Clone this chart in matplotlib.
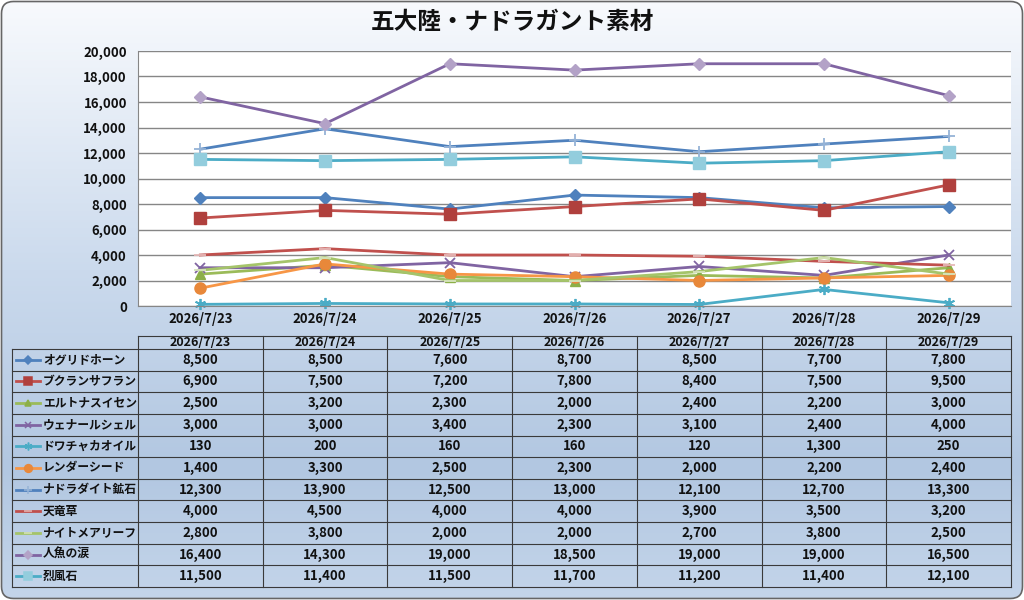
import numpy as np
import matplotlib.pyplot as plt
from matplotlib.patches import FancyBboxPatch
from matplotlib.colors import LinearSegmentedColormap
from matplotlib.ticker import FuncFormatter

plt.rcParams['font.family'] = ['Noto Sans CJK JP', 'DejaVu Sans']

# data
dates = ['2026/7/23', '2026/7/24', '2026/7/25', '2026/7/26', '2026/7/27', '2026/7/28', '2026/7/29']
names = ['オグリドホーン', 'ブクランサフラン', 'エルトナスイセン', 'ウェナールシェル', 'ドワチャカオイル',
         'レンダーシード', 'ナドラダイト鉱石', '天竜草', 'ナイトメアリーフ', '人魚の涙', '烈風石']
ogurido = [8500, 8500, 7600, 8700, 8500, 7700, 7800]
bukuran = [6900, 7500, 7200, 7800, 8400, 7500, 9500]
erutona = [2500, 3200, 2300, 2000, 2400, 2200, 3000]
wenaru = [3000, 3000, 3400, 2300, 3100, 2400, 4000]
dowacha = [130, 200, 160, 160, 120, 1300, 250]
renda = [1400, 3300, 2500, 2300, 2000, 2200, 2400]
nadoradite = [12300, 13900, 12500, 13000, 12100, 12700, 13300]
tenryu = [4000, 4500, 4000, 4000, 3900, 3500, 3200]
nightmare = [2800, 3800, 2000, 2000, 2700, 3800, 2500]
ningyo = [16400, 14300, 19000, 18500, 19000, 19000, 16500]
reppu = [11500, 11400, 11500, 11700, 11200, 11400, 12100]
series = [ogurido, bukuran, erutona, wenaru, dowacha, renda,
          nadoradite, tenryu, nightmare, ningyo, reppu]

# line color, marker, marker face color, marker size
styles = [
    ('#4F81BD', 'D', '#4F81BD', 6),
    ('#C0504D', 's', '#B0403D', 8),
    ('#9BBB59', '^', '#8CAF48', 7),
    ('#8064A2', 'x', '#8064A2', 7),
    ('#4BACC6', (6, 2, 0), '#4BACC6', 8),
    ('#F79646', 'o', '#E8883A', 8),
    ('#4F81BD', '+', '#95B3D7', 8),
    ('#C0504D', '_', '#E6B9B8', 8),
    ('#A5C46A', '_', '#D7E4BD', 8),
    ('#8064A2', 'D', '#B3A2C7', 6),
    ('#4BACC6', 's', '#93CDDD', 9),
]

W, H = 1024, 600
fig = plt.figure(figsize=(10.24, 6), dpi=100)
fig.patch.set_facecolor('white')

# background with gradient and rounded border
bg = fig.add_axes([0, 0, 1, 1])
bg.set_xlim(0, W)
bg.set_ylim(H, 0)
bg.axis('off')
cmap = LinearSegmentedColormap.from_list('bg', [(0, '#f8fafd'), (0.45, '#cbdaed'),
                                               (0.78, '#b2c7e1'), (1, '#c4d5ea')])
grad = np.linspace(0, 1, 256).reshape(-1, 1)
img = bg.imshow(grad, cmap=cmap, extent=[0, W, H, 0], aspect='auto', zorder=0)
frame = FancyBboxPatch((1.5, 1.5), W - 3, H - 3, boxstyle='round,pad=0,rounding_size=12',
                       fc='none', ec='#666666', lw=1.2, zorder=2)
bg.add_patch(frame)
img.set_clip_path(frame)

# plot area
L, R, T, B = 138, 1011, 51, 306
ax = fig.add_axes([L / W, 1 - B / H, (R - L) / W, (B - T) / H])
ax.set_facecolor('white')
x = np.arange(len(dates))
for vals, (lc, mk, mc, ms) in zip(series, styles):
    ax.plot(x, vals, color=lc, lw=2, marker=mk, ms=ms, mfc=mc, mec=mc,
            mew=1.3 if mk in ('x', '+', '_', (6, 2, 0)) else 1, clip_on=False)
ax.set_xlim(-0.5, len(dates) - 0.5)
ax.set_ylim(0, 20000)
ax.set_yticks(np.arange(0, 20001, 2000))
ax.yaxis.set_major_formatter(FuncFormatter(lambda v, p: f'{int(v):,}'))
ax.set_xticks(x)
ax.set_xticklabels(dates)
ax.grid(axis='y', color='#868686', lw=1)
ax.set_axisbelow(True)
for s in ['top', 'right']:
    ax.spines[s].set_visible(False)
ax.spines['left'].set_color('#868686')
ax.spines['bottom'].set_color('#868686')
ax.tick_params(length=0, labelsize=9.5, colors='#111111', pad=8)
ax.tick_params(axis='x', pad=4)
for lb in ax.get_xticklabels() + ax.get_yticklabels():
    lb.set_fontweight('bold')

fig.text(0.5, 1 - 22 / H, '五大陸・ナドラガント素材', ha='center', va='center',
         fontsize=17, fontweight='bold', color='#111111')

# data table
tx = fig.add_axes([0, 0, 1, 1])
tx.set_xlim(0, W)
tx.set_ylim(H, 0)
tx.axis('off')
col0 = 12
cols = [L + i * (R - L) / len(dates) for i in range(len(dates) + 1)]
head_top, rows_top, rows_bot = 336, 349, 587
rh = (rows_bot - rows_top) / len(names)
gc = '#3a3a3a'
tx.plot([L, R], [head_top, head_top], color=gc, lw=0.8)
for c in cols:
    tx.plot([c, c], [head_top, rows_bot], color=gc, lw=0.8)
tx.plot([col0, col0], [rows_top, rows_bot], color=gc, lw=0.8)
for i in range(len(names) + 1):
    y = rows_top + i * rh
    tx.plot([col0, R], [y, y], color=gc, lw=0.8)
for j, d in enumerate(dates):
    tx.text((cols[j] + cols[j + 1]) / 2, (head_top + rows_top) / 2 + 0.5, d,
            ha='center', va='center', fontsize=9, fontweight='bold', color='#111111')
for i, (nm, vals, (lc, mk, mc, ms)) in enumerate(zip(names, series, styles)):
    yc = rows_top + (i + 0.5) * rh
    tx.plot([16, 40], [yc, yc], color=lc, lw=2)
    tx.plot([28], [yc], marker=mk, ms=ms * 0.7, mfc=mc, mec=mc, mew=1.1, color=lc)
    tx.text(43, yc, nm, ha='left', va='center', fontsize=8.5, fontweight='bold', color='#111111')
    for j, v in enumerate(vals):
        tx.text((cols[j] + cols[j + 1]) / 2, yc, f'{v:,}', ha='center', va='center',
                fontsize=9.5, fontweight='bold', color='#111111')

fig.savefig('out.png', dpi=100)
